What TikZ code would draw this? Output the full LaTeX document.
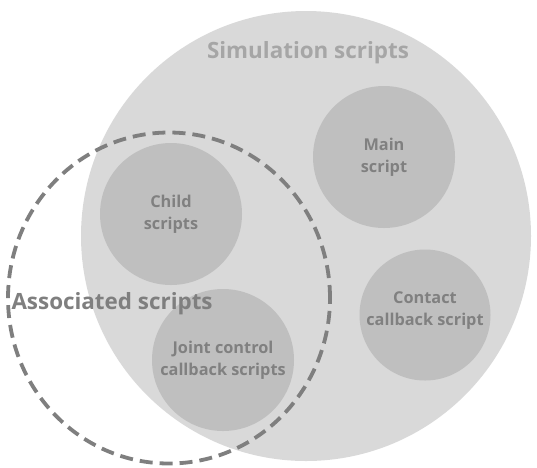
\documentclass[tikz,border=0pt]{standalone}
\usepackage{fontspec}
\usetikzlibrary{shapes.geometric}
\setmainfont{Open Sans}
\definecolor{bigfill}{HTML}{D9D9D9}
\definecolor{smallfill}{HTML}{BFBFBF}
\definecolor{dashcol}{HTML}{7F7F7F}
\definecolor{titlecol}{HTML}{A6A6A6}
\definecolor{txtcol}{HTML}{808080}
\tikzset{
  inner/.style={circle, fill=smallfill, draw=none, minimum size=142pt, inner sep=0pt,
    text=txtcol, font=\fontsize{16.3}{22}\selectfont\bfseries, align=center},
}
\begin{document}
\begin{tikzpicture}[x=1pt,y=-1pt]
\useasboundingbox (0,0) rectangle (537,467);
\node[circle, fill=bigfill, minimum size=450pt, inner sep=0pt] (sim) at (306,236) {};
\node[inner] (child) at (171,214) {Child\\scripts};
\node[inner] (main) at (384,157) {Main\\script};
\node[inner, minimum size=131pt] (contact) at (425,315) {};
\node[text=txtcol, font=\fontsize{16.3}{22}\selectfont\bfseries, align=center] (contacttxt) at (425,311) {Contact\\callback script};
\node[inner] (joint) at (223,360) {Joint control\\callback scripts};
\node[ellipse, draw=dashcol, line width=3.8pt, dash pattern=on 13pt off 7pt, minimum width=322pt, minimum height=331pt, inner sep=0pt] (assoc) at (169,298) {};
\node[text=titlecol, font=\fontsize{22.4}{26}\selectfont\bfseries] (simlbl) at (308,53) {Simulation scripts};
\node[text=dashcol, font=\fontsize{22.4}{26}\selectfont\bfseries, anchor=west] (assoclbl) at (8,304) {Associated scripts};
\end{tikzpicture}
\end{document}
